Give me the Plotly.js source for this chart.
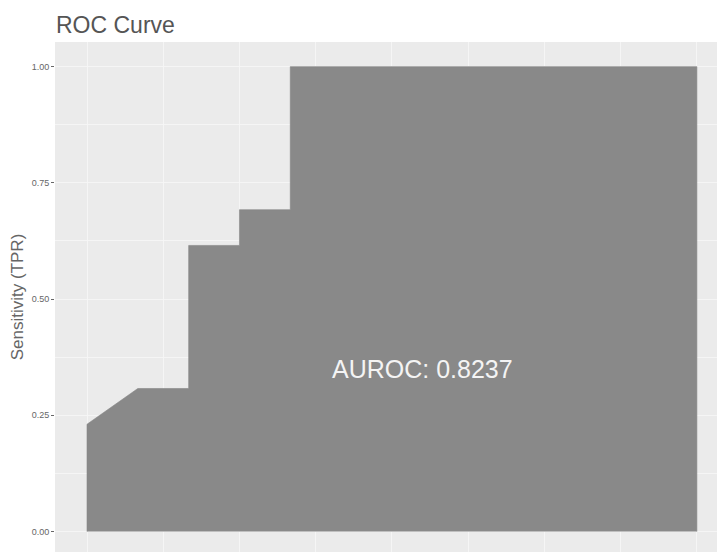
<!DOCTYPE html>
<html>
<head>
<meta charset="utf-8">
<script src="https://cdn.plot.ly/plotly-3.0.1.min.js"></script>
<style>html,body{margin:0;padding:0;overflow:hidden;background:#fff;}</style>
</head>
<body>
<div id="chart" style="width:717px;height:552px;"></div>
<script>
// ROC curve points (FPR, TPR), closed down to the baseline
const fpr = [0, 0, 0.0833, 0.1667, 0.1667, 0.25, 0.25, 0.3333, 0.3333, 1, 1];
const tpr = [0, 0.2308, 0.3077, 0.3077, 0.6154, 0.6154, 0.6923, 0.6923, 1, 1, 0];
const yTickVals = [0, 0.25, 0.5, 0.75, 1];
const yTickText = ["0.00", "0.25", "0.50", "0.75", "1.00"];
const minorVals = [0.125, 0.375, 0.625, 0.875];
const aurocLabel = "AUROC: 0.8237";
const aurocPos = [0.55, 0.35];
const chartTitle = "ROC Curve";
const yTitle = "Sensitivity (TPR)";

const trace = {
  x: fpr, y: tpr, type: 'scatter', mode: 'lines',
  fill: 'toself', fillcolor: '#898989',
  line: {color: '#858585', width: 0.6},
  hoverinfo: 'skip', showlegend: false
};

const font = 'Liberation Sans, Arial, sans-serif';
const layout = {
  width: 717, height: 552,
  margin: {l: 55, r: 0, t: 42, b: 0, pad: 0},
  paper_bgcolor: '#ffffff', plot_bgcolor: '#EBEBEB',
  title: {text: chartTitle, x: 0, xref: 'paper', xanchor: 'left', y: 1, yref: 'container', yanchor: 'top', pad: {t: 17, l: 1},
          font: {family: font, size: 23, color: '#555555'}},
  xaxis: {range: [-0.0525, 1.033], showticklabels: false, ticks: '', zeroline: false,
          tickvals: yTickVals, showgrid: true, gridcolor: '#F6F6F6', gridwidth: 0.9,
          minor: {tickvals: minorVals, showgrid: true, gridcolor: '#F6F6F6', gridwidth: 0.9},
          showline: false, fixedrange: true},
  yaxis: {range: [-0.044, 1.053], tickvals: yTickVals, ticktext: yTickText, zeroline: false,
          ticks: 'outside', ticklen: 3, tickwidth: 1, tickcolor: '#666666',
          tickfont: {family: font, size: 9, color: '#666666'},
          showgrid: true, gridcolor: '#F6F6F6', gridwidth: 0.9,
          minor: {tickvals: minorVals, showgrid: true, gridcolor: '#F6F6F6', gridwidth: 0.9},
          title: {text: yTitle, standoff: 3, font: {family: font, size: 17, color: '#666666'}},
          showline: false, fixedrange: true},
  annotations: [{x: aurocPos[0], y: aurocPos[1], xref: 'x', yref: 'y', text: aurocLabel, showarrow: false,
                 font: {family: font, size: 25, color: '#f4f4f4'}}]
};

Plotly.newPlot('chart', [trace], layout, {displayModeBar: false, staticPlot: true});
</script>
</body>
</html>
